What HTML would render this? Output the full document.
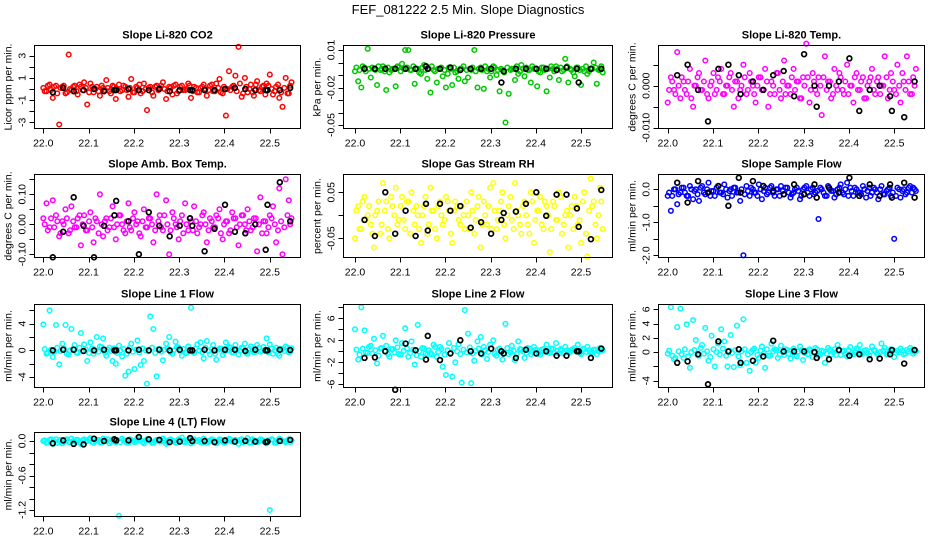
<!DOCTYPE html>
<html><head><meta charset="utf-8"><style>
body{margin:0;background:#fff;}
svg{display:block;font-family:"Liberation Sans",sans-serif;}
</style></head><body>
<svg id="chart" width="936" height="540" viewBox="0 0 936 540">
<text x="468" y="14" text-anchor="middle" font-size="13">FEF_081222  2.5 Min. Slope Diagnostics</text>
</svg>
<script>
// shared time axes (decimal day)
const times = [22.000,22.007,22.014,22.021,22.028,22.035,22.042,22.049,22.056,22.062,22.069,22.076,22.083,22.090,22.097,22.104,22.111,22.118,22.125,22.132,22.139,22.146,22.153,22.160,22.167,22.174,22.181,22.188,22.194,22.201,22.208,22.215,22.222,22.229,22.236,22.243,22.250,22.257,22.264,22.271,22.278,22.285,22.292,22.299,22.306,22.313,22.320,22.326,22.333,22.340,22.347,22.354,22.361,22.368,22.375,22.382,22.389,22.396,22.403,22.410,22.417,22.424,22.431,22.438,22.445,22.451,22.458,22.465,22.472,22.479,22.486,22.493,22.500,22.507,22.514,22.521,22.528,22.535,22.542,22.548];
const timesB = [22.003,22.010,22.017,22.024,22.031,22.038,22.045,22.052,22.059,22.066,22.073,22.080,22.087,22.094,22.101,22.108,22.115,22.122,22.129,22.136,22.142,22.149,22.156,22.163,22.170,22.177,22.184,22.191,22.198,22.205,22.212,22.219,22.226,22.233,22.240,22.247,22.254,22.260,22.267,22.274,22.281,22.288,22.295,22.302,22.309,22.316,22.323,22.330,22.337,22.344,22.351,22.358,22.365,22.372,22.379,22.386,22.392,22.399,22.406,22.413,22.420,22.427,22.434,22.441,22.448,22.455,22.462,22.469,22.476,22.483,22.490,22.497,22.504,22.511,22.518,22.525,22.532,22.539,22.545];
const blackTimes = [22.021,22.044,22.067,22.089,22.112,22.134,22.157,22.161,22.188,22.211,22.233,22.256,22.279,22.301,22.324,22.329,22.356,22.378,22.401,22.423,22.446,22.468,22.491,22.495,22.522,22.545];
const xTicks = [22.0,22.1,22.2,22.3,22.4,22.5];
const xTickLabels = ["22.0","22.1","22.2","22.3","22.4","22.5"];

const co2Values = [0.1,-0.2,0.4,-0.8,0.3,-3.2,0.2,-0.4,3.1,-0.1,0.3,-0.5,0.2,0.6,-1.4,0.5,-0.3,0.2,-0.6,0.1,0.8,-0.2,0.3,-0.9,0.4,-0.1,0.2,-0.7,0.9,-0.3,0.1,-0.4,0.5,-1.9,0.2,-0.6,0.3,0.1,0.6,-0.9,0.2,-0.5,0.4,-0.2,0.3,-0.1,0.5,-0.8,0.2,-0.3,0.1,0.4,-0.6,0.3,-0.2,0.5,0.9,-0.4,-2.4,1.6,0.2,1.2,3.8,-0.7,1.0,-0.3,0.4,-0.6,0.7,-0.2,0.3,0.5,1.3,-0.5,0.2,-0.8,-1.6,1.0,-0.4,0.6];
const co2Band = [-0.2,0.3,-0.1,0.2,-0.4,0.1,0.3,-0.3,0.0,0.2,-0.2,0.4,-0.1,0.1,-0.3,0.2,0.0,-0.2,0.3,-0.1,0.1,-0.4,0.2,0.0,-0.2,0.3,-0.1,0.1,-0.3,0.2,0.4,-0.2,0.0,0.1,-0.3,0.2,-0.1,0.3,0.0,-0.2,0.1,0.3,-0.4,0.2,-0.1,0.0,0.3,-0.2,0.1,-0.3,0.2,0.0,-0.1,0.4,-0.2,0.1,-0.3,0.2,0.0,-0.1,0.3,-0.2,0.5,-0.4,0.2,0.0,-0.3,0.4,-0.1,0.2,-0.5,0.3,0.0,-0.2,0.4,-0.3,0.1,-0.4,0.3];
const co2Black = [-0.3,0.1,-0.2,-0.1,0.0,-0.2,-0.1,-0.1,0.0,-0.1,-0.1,0.0,-0.2,-0.1,-0.1,-0.1,-0.1,-0.1,0.0,0.1,0.0,-0.1,-0.1,-0.1,-0.1,0.1];
const presValues = [-0.007,-0.015,-0.020,-0.004,0.011,-0.012,-0.005,-0.018,-0.006,-0.003,-0.022,-0.008,-0.005,-0.019,-0.004,-0.001,0.010,0.010,-0.006,-0.017,-0.005,-0.009,-0.002,-0.013,-0.024,-0.006,-0.016,-0.005,-0.011,-0.020,-0.004,-0.018,-0.008,-0.013,-0.005,-0.015,-0.012,-0.006,0.010,-0.020,-0.004,-0.021,-0.007,-0.012,-0.003,-0.010,-0.023,-0.006,-0.048,-0.025,-0.005,-0.014,-0.009,-0.002,-0.011,-0.006,-0.016,-0.005,-0.019,-0.008,-0.004,-0.023,-0.012,-0.005,-0.003,-0.014,-0.007,0.003,-0.016,-0.006,-0.011,-0.004,-0.018,-0.007,-0.009,-0.005,0.000,-0.017,-0.006,-0.008];
const presBand = [-0.004,-0.006,-0.003,-0.007,-0.005,-0.004,-0.006,-0.003,-0.005,-0.007,-0.004,-0.006,-0.005,-0.003,-0.007,-0.005,-0.004,-0.006,-0.003,-0.005,-0.008,-0.004,-0.006,-0.005,-0.003,-0.007,-0.005,-0.004,-0.006,-0.009,-0.005,-0.004,-0.007,-0.005,-0.003,-0.006,-0.005,-0.004,-0.007,-0.005,-0.006,-0.003,-0.005,-0.007,-0.004,-0.006,-0.005,-0.008,-0.004,-0.006,-0.005,-0.003,-0.007,-0.005,-0.004,-0.006,-0.003,-0.005,-0.007,-0.004,-0.006,-0.005,-0.003,-0.007,-0.005,-0.004,-0.006,-0.003,-0.005,-0.008,-0.004,-0.006,-0.005,-0.003,-0.007,-0.005,-0.004,-0.006,-0.003];
const presBlack = [-0.005,-0.005,-0.005,-0.005,-0.005,-0.005,-0.003,-0.005,-0.005,-0.004,-0.006,-0.005,-0.005,-0.005,-0.016,-0.007,-0.005,-0.005,-0.005,-0.005,-0.006,-0.004,-0.005,-0.016,-0.005,-0.005];
const liTempValues = [-0.004,0.002,-0.001,0.008,-0.003,0.001,-0.002,0.004,-0.005,0.000,0.003,-0.001,0.006,-0.003,0.001,-0.002,0.002,0.004,-0.002,0.000,0.003,-0.005,0.001,-0.001,0.005,-0.002,0.003,0.000,-0.004,0.002,-0.001,0.004,-0.005,0.001,-0.002,0.003,-0.003,0.006,0.000,-0.002,0.004,0.001,-0.003,0.002,0.010,-0.004,0.003,-0.001,0.002,-0.007,0.007,0.001,-0.003,0.004,-0.001,0.002,-0.002,0.005,0.000,-0.004,0.003,-0.001,0.002,-0.003,0.001,0.004,-0.002,0.002,0.000,0.007,-0.003,0.003,-0.001,0.005,-0.004,0.001,0.007,-0.002,0.002,0.004];
const liTempBand = [-0.001,0.001,-0.002,0.000,0.002,-0.001,0.001,-0.003,0.000,0.002,-0.001,0.001,-0.002,0.000,0.003,-0.001,0.001,-0.002,0.000,0.002,-0.001,0.001,-0.003,0.000,0.002,-0.001,0.001,-0.002,0.000,0.002,-0.001,0.001,-0.002,0.000,0.003,-0.001,0.001,-0.002,0.000,0.002,-0.001,0.001,-0.003,0.000,0.002,-0.001,0.001,-0.002,0.000,0.002,-0.001,0.001,-0.002,0.000,0.003,-0.001,0.001,-0.002,0.000,0.002,-0.001,0.001,-0.003,0.000,0.002,-0.001,0.001,-0.002,0.000,0.002,-0.001,0.001,-0.002,0.000,0.003,-0.001,0.001,-0.002,0.000];
const liTempBlack = [0.0025,0.005,-0.001,-0.0085,0.004,0.005,0.0025,-0.002,0.001,-0.001,0.0025,0.0035,-0.0025,0.0075,0.0,-0.005,0.0,0.001,0.0065,-0.006,-0.001,0.0,-0.0025,-0.006,-0.0075,0.001];
const ambValues = [0.02,0.07,-0.01,0.08,0.03,-0.04,0.01,0.05,-0.03,0.06,-0.01,0.02,-0.07,0.03,-0.02,0.04,-0.06,0.01,0.10,-0.04,0.02,-0.01,0.06,-0.05,0.03,0.00,-0.03,0.07,-0.02,0.04,0.01,-0.04,0.05,-0.01,0.02,-0.06,0.10,0.03,-0.02,0.08,-0.10,0.04,0.00,-0.05,0.03,0.07,-0.02,0.01,0.06,-0.03,0.00,0.04,-0.06,0.02,-0.01,0.03,0.05,-0.05,0.01,-0.03,0.04,0.02,-0.07,0.03,0.00,0.05,-0.02,0.02,-0.09,0.09,0.01,-0.03,0.03,0.06,-0.06,0.12,-0.10,0.15,0.08,0.02];
const ambBand = [0.00,-0.02,0.02,-0.01,0.01,-0.03,0.00,0.02,-0.02,0.01,-0.01,0.03,0.00,-0.02,0.01,-0.01,0.02,-0.03,0.00,0.01,-0.02,0.02,-0.01,0.00,0.03,-0.02,0.01,-0.01,0.02,0.00,-0.03,0.01,-0.01,0.02,0.00,-0.02,0.01,-0.01,0.03,0.00,-0.02,0.02,-0.01,0.01,-0.03,0.00,0.02,-0.02,0.01,-0.01,0.03,0.00,-0.02,0.01,-0.01,0.02,-0.03,0.00,0.01,-0.02,0.02,-0.01,0.00,0.03,-0.02,0.01,-0.01,0.02,0.00,-0.03,0.01,-0.01,0.02,0.00,-0.02,0.01,-0.01,0.03,0.00];
const ambBlack = [-0.11,-0.025,0.09,-0.005,-0.11,-0.005,0.03,0.078,0.01,-0.1,0.04,-0.005,-0.04,-0.005,0.02,-0.005,-0.09,-0.015,0.065,-0.025,-0.03,0.0,-0.085,0.065,0.14,0.01];
const rhValues = [-0.05,0.02,-0.03,0.04,0.00,-0.02,-0.07,0.01,-0.04,0.07,0.03,-0.05,0.02,0.06,-0.01,0.04,-0.03,0.03,0.05,-0.02,0.00,-0.06,0.02,-0.04,0.06,0.01,-0.05,0.03,-0.02,0.04,0.01,-0.06,0.03,-0.01,0.02,-0.03,0.00,0.05,-0.04,0.02,-0.07,0.03,-0.02,0.06,0.07,-0.03,0.01,0.05,-0.05,0.02,-0.01,0.07,0.00,-0.04,0.03,-0.02,0.05,-0.06,0.01,0.04,-0.03,0.02,-0.08,0.03,-0.01,0.05,-0.04,0.00,-0.07,0.02,0.04,-0.02,-0.06,0.05,-0.09,0.08,0.03,-0.05,0.06,-0.03];
const rhBand = [0.01,-0.03,0.03,-0.01,0.02,-0.04,0.00,0.03,-0.02,0.01,-0.03,0.04,0.00,-0.02,0.02,-0.01,0.03,-0.04,0.01,0.02,-0.03,0.00,0.04,-0.02,0.01,-0.03,0.02,0.00,-0.01,0.03,-0.04,0.01,0.02,-0.02,0.00,0.03,-0.03,0.01,-0.01,0.04,-0.02,0.00,0.02,-0.03,0.01,-0.01,0.03,-0.02,0.00,0.04,-0.03,0.01,-0.02,0.02,0.00,-0.04,0.03,-0.01,0.01,-0.02,0.03,0.00,-0.03,0.02,-0.01,0.04,-0.02,0.01,0.00,-0.03,0.02,-0.01,0.03,-0.04,0.01,0.02,-0.02,0.00,0.03];
const rhBlack = [-0.01,-0.045,0.05,-0.04,0.01,-0.045,0.025,-0.033,0.025,0.01,0.02,-0.027,-0.015,-0.04,-0.01,0.005,0.008,0.025,0.05,-0.001,0.045,0.045,0.015,-0.025,-0.052,0.055];
const flowValues = [-0.2,-0.65,0.0,-0.45,-0.1,0.05,-0.2,0.1,-0.3,0.0,-0.35,0.1,-0.15,0.2,-0.05,-0.2,0.1,-0.1,0.15,-0.25,0.0,0.05,-0.1,-0.35,-2.0,0.1,-0.2,0.0,-0.1,0.15,-0.3,0.05,-0.1,0.1,-0.2,0.0,0.1,-0.15,0.05,-0.25,-0.1,0.05,-0.3,0.0,0.1,-0.2,0.05,-0.1,-0.9,0.0,-0.2,0.1,-0.05,-0.25,0.0,0.15,-0.15,0.2,0.05,-0.2,0.0,-0.1,0.1,-0.25,0.05,-0.1,0.0,-0.3,0.1,-0.15,0.0,-0.2,-1.5,0.05,-0.25,0.0,-0.1,0.1,0.05,-0.05];
const flowBand = [-0.1,-0.2,0.0,-0.15,0.05,-0.1,-0.2,0.0,-0.05,-0.15,0.05,-0.1,0.0,-0.2,-0.05,0.05,-0.1,-0.15,0.0,-0.05,-0.2,0.05,-0.1,0.0,-0.15,-0.05,0.05,-0.1,-0.2,0.0,-0.05,-0.15,0.05,-0.1,0.0,-0.2,-0.05,0.05,-0.1,-0.15,0.0,-0.05,-0.2,0.05,-0.1,0.0,-0.15,-0.05,0.05,-0.1,-0.2,0.0,-0.05,-0.15,0.05,-0.1,0.0,-0.2,-0.05,0.05,-0.1,-0.15,0.0,-0.05,-0.2,0.05,-0.1,0.0,-0.15,-0.05,0.05,-0.1,-0.2,0.0,-0.05,-0.15,0.05,-0.1,0.0];
const flowBlack = [0.2,-0.4,0.25,-0.1,0.1,-0.5,0.35,-0.1,0.25,0.1,-0.05,-0.15,0.15,-0.15,0.15,-0.25,0.05,-0.1,0.35,-0.2,0.15,-0.2,0.15,-0.25,0.2,-0.25];
const line1Values = [3.9,-0.5,6.0,-1.0,3.8,-2.1,1.0,3.8,-0.6,3.2,0.8,-0.4,2.6,0.9,-1.6,1.2,-0.5,2.0,0.6,1.8,-0.8,0.4,-1.6,-2.0,0.7,-0.9,-3.8,-3.2,1.0,-2.8,1.5,-2.2,-1.6,-5.0,5.1,3.2,-3.9,0.2,-1.5,1.0,2.0,-0.5,1.3,0.4,-0.8,-0.3,0.6,6.4,-0.4,0.9,1.2,-1.2,1.4,-0.6,0.8,-1.4,0.3,-0.7,1.2,0.5,-0.3,0.8,-0.6,0.4,1.0,-0.5,0.6,-0.3,0.8,-0.2,0.5,1.8,0.9,-0.5,0.4,-0.8,0.2,0.6,-0.3,0.3];
const line1Band = [0.2,-0.4,0.1,-0.2,0.4,-0.1,0.3,-0.5,0.0,0.2,-0.3,0.4,-0.1,0.1,-0.4,0.3,0.0,-0.2,0.5,-0.3,0.1,-0.1,0.3,-0.4,0.0,0.2,-0.5,0.4,-0.2,0.1,-0.3,0.3,0.0,-0.1,0.4,-0.4,0.2,-0.2,0.1,0.3,-0.3,0.0,0.5,-0.1,0.2,-0.4,0.1,-0.2,0.3,0.0,-0.3,0.4,-0.1,0.2,-0.5,0.1,0.3,-0.2,0.0,0.4,-0.3,0.1,-0.1,0.3,-0.4,0.2,0.0,-0.2,0.4,-0.1,0.1,-0.3,0.3,0.0,-0.5,0.2,-0.1,0.4,-0.2];
const line1Black = [0,0.1,0.1,-0.1,0.0,0.1,0,0,0,0.1,0,0.1,0,0.1,0,0,0.1,0,0.1,0.1,-0.1,0.1,0,0,0.1,0.05];
const line2Values = [4.0,-1.5,8.0,3.8,-0.3,1.0,2.3,-2.2,0.5,2.8,1.0,-1.0,0.4,2.0,-0.5,1.5,4.2,-1.0,1.8,-2.4,4.8,-1.0,0.5,-0.6,-0.3,1.2,-1.0,0.8,-2.8,-4.3,1.5,-4.6,-2.0,1.3,-5.7,7.5,3.2,-5.8,-1.7,1.8,2.6,0.8,-1.4,1.2,2.0,-0.8,0.5,-1.5,5.0,-0.5,1.0,-1.6,1.8,0.3,-1.2,0.6,-0.5,0.8,0.2,-0.6,0.4,1.2,-0.3,0.5,1.5,-0.4,0.2,0.8,-0.2,0.3,0.6,1.2,-0.5,0.4,0.8,-0.2,0.3,-0.5,0.6,0.2];
const line2Band = [0.3,-0.6,0.5,-0.2,0.8,-0.4,0.2,-0.8,0.6,0.0,-0.5,0.4,-0.2,0.7,-0.6,0.1,0.5,-0.3,0.3,-0.7,0.0,0.6,-0.4,0.2,-0.5,0.8,-0.1,0.4,-0.6,0.2,-0.3,0.6,0.0,-0.5,0.3,-0.2,0.7,-0.4,0.1,0.5,-0.6,0.2,-0.1,0.4,-0.5,0.3,0.0,-0.3,0.6,-0.2,0.1,-0.5,0.4,0.0,-0.3,0.5,-0.1,0.2,-0.4,0.3,0.0,-0.2,0.5,-0.3,0.1,0.4,-0.4,0.2,-0.1,0.3,0.0,-0.3,0.4,-0.1,0.2,-0.2,0.3,0.0,0.2];
const line2Black = [-1.2,-1.1,0.0,-7.0,1.4,0.2,-1.5,2.8,-1.6,-0.4,2.0,0.0,-0.4,0.5,0.0,-0.4,-1.2,0.3,-0.4,0.0,-0.8,-0.8,0.0,0.0,-1.2,0.5];
const line3Values = [-0.2,6.3,-1.0,3.5,6.1,-0.8,3.9,-2.2,4.5,1.7,-0.5,1.0,3.4,-1.2,2.3,-2.0,1.2,3.2,1.5,-2.0,2.4,-2.1,3.7,-1.8,4.6,-1.5,-2.6,0.3,-1.5,-0.8,0.8,-2.2,-0.5,1.2,0.4,-0.8,0.9,-0.4,0.3,-0.9,0.5,-0.6,0.8,-1.1,0.2,0.4,-0.7,0.6,-0.5,0.2,-1.5,0.6,-0.3,0.4,1.0,-0.4,0.2,-0.6,0.7,-0.3,0.5,1.0,-0.2,0.3,-0.5,0.8,0.2,-0.4,1.2,0.6,-0.3,0.4,-0.7,0.2,0.5,-0.3,0.3,0.6,-0.2,0.1];
const line3Band = [0.2,-0.5,-0.8,0.1,-0.3,0.4,-0.6,0.0,0.3,-0.4,0.6,-0.2,0.1,-0.7,0.4,0.0,-0.3,0.5,-0.5,0.2,-0.1,0.3,-0.6,0.1,0.4,-0.3,0.0,0.5,-0.4,0.2,-0.2,0.4,-0.5,0.1,0.3,-0.3,0.0,0.4,-0.2,0.2,-0.4,0.1,0.3,-0.1,-0.3,0.2,0.0,0.4,-0.3,0.1,-0.2,0.3,0.0,-0.4,0.2,0.1,-0.2,0.3,-0.1,0.0,0.4,-0.3,0.2,-0.1,0.1,0.3,-0.2,0.0,0.2,-0.3,0.1,0.3,-0.1,0.0,0.2,-0.2,0.1,0.3,0.0];
const line3Black = [-1.5,-1.3,-0.3,-4.5,1.5,0.1,0.4,-1.5,-1.2,-0.6,1.6,0.1,0.1,0.1,0.0,-0.8,-1.0,0.3,-0.5,-0.3,-1.0,-0.9,-0.3,0.3,-1.6,0.3];
const line4Values = [0.0,-0.03,0.02,-0.05,0.03,0.0,-0.04,0.02,-0.02,0.04,-0.01,0.02,-0.05,0.03,0.0,0.05,-0.03,0.02,-0.02,0.04,0.0,-0.04,0.03,-0.02,-1.3,0.04,0.0,-0.03,0.02,-0.02,0.05,0.01,-0.04,0.03,0.0,-0.03,0.02,-0.01,0.04,-0.05,0.02,0.0,-0.03,0.03,0.06,-0.02,0.01,-0.04,0.03,0.0,-0.02,0.04,-0.03,0.01,0.02,-0.04,0.03,0.0,-0.02,0.04,-0.01,0.02,-0.05,0.03,0.0,0.05,-0.03,0.01,-0.02,0.03,0.0,-0.04,-1.2,0.02,-0.03,0.04,0.0,-0.02,0.03,0.01];
const line4Band = [0.01,-0.02,0.03,0.0,-0.03,0.02,-0.01,0.03,-0.02,0.0,0.02,-0.03,0.01,-0.01,0.03,-0.02,0.0,0.02,-0.03,0.01,0.03,-0.01,0.0,0.02,-0.02,0.01,-0.03,0.03,0.0,-0.01,0.02,-0.02,0.01,0.03,-0.03,0.0,0.02,-0.01,0.01,-0.02,0.03,0.0,-0.03,0.02,-0.01,0.01,0.03,-0.02,0.0,0.02,-0.03,0.01,-0.01,0.03,-0.02,0.0,0.02,-0.03,0.01,0.03,-0.01,0.0,0.02,-0.02,0.01,-0.03,0.03,0.0,-0.01,0.02,-0.02,0.01,0.03,-0.03,0.0,0.02,-0.01,0.01,-0.02];
const line4Black = [-0.04,0.01,-0.05,-0.06,0.04,0.0,0.03,0.01,0.01,0.07,0.03,0.02,-0.02,-0.01,0.05,0.0,0.0,-0.02,0.01,-0.01,0.0,-0.01,-0.02,-0.01,0.0,0.02];

const yTicks1=[-3,-2,-1,0,1,2,3], yLabels1=["-3","","-1","","1","","3"];
const yTicks2=[0.01,0,-0.01,-0.02,-0.03,-0.04,-0.05], yLabels2=["0.01","","","-0.02","","","-0.05"];
const yTicks3=[0.005,0,-0.005,-0.01], yLabels3=["","0.000","","-0.010"];
const yTicks4=[0.15,0.1,0.05,0,-0.05,-0.1], yLabels4=["","0.10","","0.00","","-0.10"];
const yTicks5=[0.05,0,-0.05], yLabels5=["0.05","","-0.05"];
const yTicks6=[0,-0.5,-1,-1.5,-2], yLabels6=["0.0","","-1.0","","-2.0"];
const yTicks7=[6,4,2,0,-2,-4], yLabels7=["","4","","0","","-4"];
const yTicks8=[8,6,4,2,0,-2,-4,-6], yLabels8=["","6","","2","","-2","","-6"];
const yTicks9=[6,4,2,0,-2,-4], yLabels9=["6","4","2","0","","-4"];
const yTicks10=[0,-0.2,-0.4,-0.6,-0.8,-1.0,-1.2], yLabels10=["0.0","","","-0.6","","","-1.2"];

const NS="http://www.w3.org/2000/svg";
const svg=document.getElementById('chart');
const cols=[{l:34.5,r:300.5,x0:43.3,s:453},{l:343.5,r:612.5,x0:355,s:452},{l:658.5,r:924.5,x0:667.7,s:453}];
const rows=[{t:45.5,b:128.5},{t:174.5,b:257.5},{t:304.5,b:387.5},{t:432.5,b:516.5}];
const panels=[
 {name:"co2",title:"Slope Li-820 CO2",ylab:"Licor ppm per min.",c:0,r:0,va:3,pa:55.7,vb:-3,pb:122.3,col:"#ff0000",v:co2Values,bd:co2Band,k:co2Black,yt:yTicks1,yl:yLabels1},
 {name:"pressure",title:"Slope Li-820 Pressure",ylab:"kPa per min.",c:1,r:0,va:0.01,pa:50,vb:-0.05,pb:125,col:"#00c800",v:presValues,bd:presBand,k:presBlack,yt:yTicks2,yl:yLabels2},
 {name:"li-temp",title:"Slope Li-820 Temp.",ylab:"degrees C per min.",c:2,r:0,va:0,pa:85.7,vb:-0.01,pb:127.7,col:"#ff00ff",v:liTempValues,bd:liTempBand,k:liTempBlack,yt:yTicks3,yl:yLabels3},
 {name:"amb-box-temp",title:"Slope Amb. Box Temp.",ylab:"degrees C per min.",c:0,r:1,va:0.1,pa:194.3,vb:-0.1,pb:254.3,col:"#ff00ff",v:ambValues,bd:ambBand,k:ambBlack,yt:yTicks4,yl:yLabels4},
 {name:"gas-stream-rh",title:"Slope Gas Stream RH",ylab:"percent per min.",c:1,r:1,va:0.05,pa:192.3,vb:-0.05,pb:238.3,col:"#ffff00",v:rhValues,bd:rhBand,k:rhBlack,yt:yTicks5,yl:yLabels5},
 {name:"sample-flow",title:"Slope Sample Flow",ylab:"ml/min per min.",c:2,r:1,va:0,pa:189.3,vb:-2,pb:255.3,col:"#0000ff",v:flowValues,bd:flowBand,k:flowBlack,yt:yTicks6,yl:yLabels6},
 {name:"line1-flow",title:"Slope Line 1 Flow",ylab:"ml/min per min.",c:0,r:2,va:4,pa:323.7,vb:-4,pb:377,col:"#00ffff",v:line1Values,bd:line1Band,k:line1Black,yt:yTicks7,yl:yLabels7},
 {name:"line2-flow",title:"Slope Line 2 Flow",ylab:"ml/min per min.",c:1,r:2,va:6,pa:318.3,vb:-6,pb:384.3,col:"#00ffff",v:line2Values,bd:line2Band,k:line2Black,yt:yTicks8,yl:yLabels8},
 {name:"line3-flow",title:"Slope Line 3 Flow",ylab:"ml/min per min.",c:2,r:2,va:6,pa:309.3,vb:-4,pb:380.7,col:"#00ffff",v:line3Values,bd:line3Band,k:line3Black,yt:yTicks9,yl:yLabels9},
 {name:"line4-flow",title:"Slope Line 4 (LT) Flow",ylab:"ml/min per min.",c:0,r:3,va:0,pa:441,vb:-1.2,pb:510,col:"#00ffff",v:line4Values,bd:line4Band,k:line4Black,yt:yTicks10,yl:yLabels10}
];
function mk(tag,attrs,parent){const e=document.createElementNS(NS,tag);for(const a in attrs)e.setAttribute(a,attrs[a]);(parent||svg).appendChild(e);return e;}
panels.forEach(p=>{
 const C=cols[p.c],R=rows[p.r];
 const xs=t=>C.x0+(t-22)*C.s;
 const ys=v=>p.pa+(v-p.va)*(p.pb-p.pa)/(p.vb-p.va);
 const g=mk('g',{});
 
 
 const cx=(C.l+C.r)/2;
 const tt=mk('text',{x:cx,y:R.t-7,'text-anchor':'middle','font-size':'11','font-weight':'bold'},g);tt.textContent=p.title;
 
 
 const yl=mk('text',{x:0,y:0,'text-anchor':'middle','font-size':'10.5',transform:`translate(${C.l-23},${(R.t+R.b)/2}) rotate(-90)`},g);yl.textContent=p.ylab;
 
 
 const pts=mk('g',{fill:'none','stroke-width':'1.5'},g);
 
 
 const nb=Math.min(timesB.length,p.bd.length);
 for(let i=0;i<nb;i++){const c=mk('circle',{cx:xs(timesB[i]).toFixed(1),cy:ys(p.bd[i]).toFixed(1),r:2.3,stroke:p.col},pts);
  
  }
 const n=Math.min(times.length,p.v.length);
 for(let i=0;i<n;i++){const c=mk('circle',{cx:xs(times[i]).toFixed(1),cy:ys(p.v[i]).toFixed(1),r:2.3,stroke:p.col},pts);
  
  }
 const bp=mk('g',{fill:'none','stroke-width':'1.7',stroke:'#000'},g);
 
 
 const m=Math.min(blackTimes.length,p.k.length);
 for(let i=0;i<m;i++){const c=mk('circle',{cx:xs(blackTimes[i]).toFixed(1),cy:ys(p.k[i]).toFixed(1),r:2.4},bp);
  
  }
 const box=mk('rect',{x:C.l,y:R.t,width:C.r-C.l,height:R.b-R.t,fill:'none',stroke:'#000','stroke-width':'1','shape-rendering':'crispEdges'},g);
 
 
 const xa=mk('g',{stroke:'#000','font-size':'10.5','shape-rendering':'crispEdges'},g);
 
 
 xTicks.forEach((t,i)=>{const x=Math.round(xs(t))+0.5;mk('line',{x1:x,x2:x,y1:R.b,y2:R.b+5},xa);
  const tx=mk('text',{x:xs(t),y:R.b+18,'text-anchor':'middle',stroke:'none',fill:'#000'},xa);tx.textContent=xTickLabels[i];});
 const ya=mk('g',{stroke:'#000','font-size':'10.5','shape-rendering':'crispEdges'},g);
 
 
 p.yt.forEach((t,i)=>{const y=Math.round(ys(t))+0.5;mk('line',{x1:C.l,x2:C.l-5,y1:y,y2:y},ya);
  if(p.yl[i]){const tx=mk('text',{x:0,y:0,'text-anchor':'middle',stroke:'none',fill:'#000',transform:`translate(${C.l-9},${ys(t)}) rotate(-90)`},ya);tx.textContent=p.yl[i];}});
});
</script>
</body></html>
